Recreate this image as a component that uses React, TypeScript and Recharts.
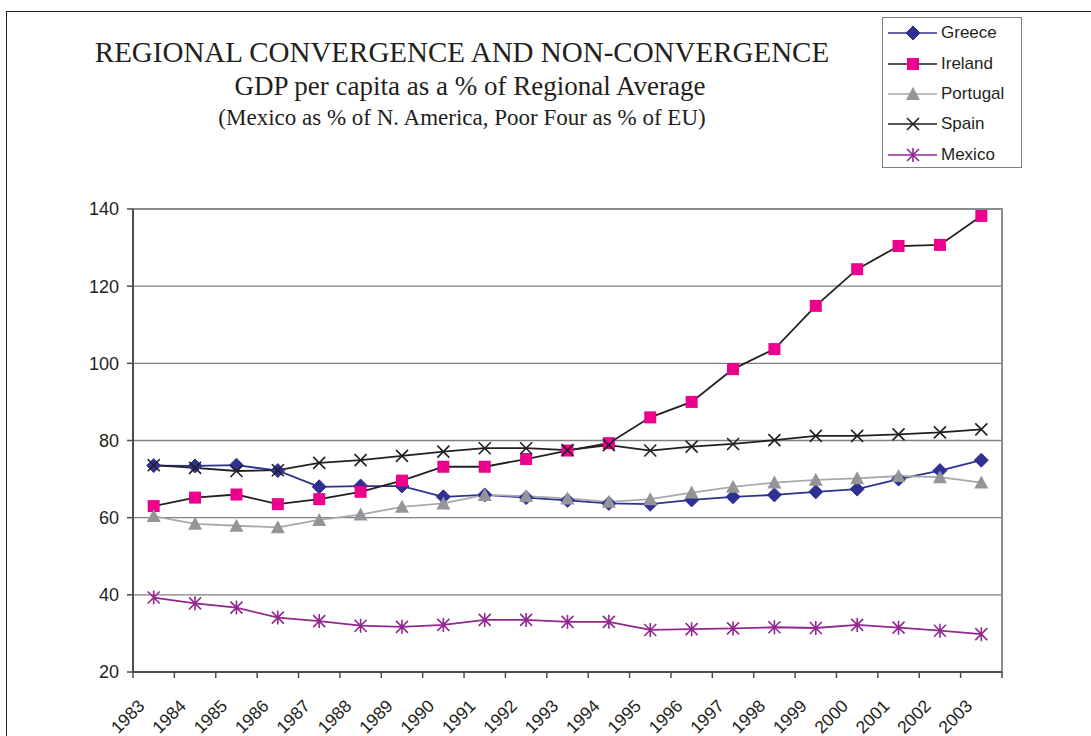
import { LineChart, Line, XAxis, YAxis, CartesianGrid, ReferenceArea } from 'recharts';

const years = [
  '1983', '1984', '1985', '1986', '1987', '1988', '1989', '1990', '1991', '1992', '1993',
  '1994', '1995', '1996', '1997', '1998', '1999', '2000', '2001', '2002', '2003',
];

const greece = [73.5, 73.4, 73.6, 72.2, 68.0, 68.2, 68.2, 65.4, 65.9, 65.2, 64.5, 63.7, 63.5, 64.6, 65.4, 65.9, 66.7, 67.4, 70.0, 72.2, 74.9];
const ireland = [63.0, 65.2, 66.0, 63.5, 64.8, 66.7, 69.6, 73.2, 73.2, 75.2, 77.4, 79.3, 86.0, 90.0, 98.5, 103.7, 114.9, 124.4, 130.4, 130.7, 138.2];
const portugal = [60.4, 58.4, 57.9, 57.5, 59.4, 60.8, 62.8, 63.7, 65.9, 65.6, 65.0, 64.1, 64.8, 66.5, 68.0, 69.1, 69.8, 70.2, 70.8, 70.5, 69.1];
const spain = [73.6, 72.9, 72.1, 72.3, 74.2, 74.9, 76.0, 77.1, 78.0, 78.0, 77.5, 78.8, 77.4, 78.4, 79.1, 80.1, 81.2, 81.2, 81.6, 82.1, 82.9];
const mexico = [39.3, 37.8, 36.7, 34.1, 33.2, 32.0, 31.7, 32.2, 33.5, 33.5, 33.0, 33.0, 30.9, 31.1, 31.3, 31.6, 31.4, 32.2, 31.5, 30.7, 29.8];

const yTicks = [20, 40, 60, 80, 100, 120, 140];

const data = years.map((year, i) => ({
  year,
  Greece: greece[i],
  Ireland: ireland[i],
  Portugal: portugal[i],
  Spain: spain[i],
  Mexico: mexico[i],
}));

const NAVY = '#2e3192';
const PINK = '#ec008c';
const GREY = '#939598';
const INK = '#231f20';
const PURPLE = '#92278f';
const AXIS = '#4d4d4d';

// chart box
const W = 1091;
const H = 736;
const M = { top: 209, right: 89, bottom: 4, left: 73 };
const Y_AXIS_W = 60;
const HALF_BAND = (W - M.left - M.right - Y_AXIS_W) / years.length / 2;

type MarkerKind = 'diamond' | 'square' | 'triangle' | 'x' | 'star';

function Marker({ kind, cx, cy, color }: { kind: MarkerKind; cx: number; cy: number; color: string }) {
  if (cx == null || cy == null) return null;
  switch (kind) {
    case 'diamond':
      return <path d={`M${cx},${cy - 7}L${cx + 7},${cy}L${cx},${cy + 7}L${cx - 7},${cy}Z`} fill={color} stroke={color} strokeWidth={1} />;
    case 'square':
      return <rect x={cx - 6} y={cy - 6} width={12} height={12} fill={color} />;
    case 'triangle':
      return <path d={`M${cx},${cy - 7}L${cx + 7},${cy + 6}L${cx - 7},${cy + 6}Z`} fill={color} />;
    case 'x':
      return (
        <path d={`M${cx - 6},${cy - 6}L${cx + 6},${cy + 6}M${cx + 6},${cy - 6}L${cx - 6},${cy + 6}`} stroke={color} strokeWidth={1.6} />
      );
    case 'star':
      return (
        <path
          d={`M${cx - 6},${cy - 6}L${cx + 6},${cy + 6}M${cx + 6},${cy - 6}L${cx - 6},${cy + 6}M${cx},${cy - 7}L${cx},${cy + 7}`}
          stroke={color}
          strokeWidth={1.6}
        />
      );
  }
  return null;
}

const series: { key: string; line: string; marker: string; kind: MarkerKind }[] = [
  { key: 'Greece', line: NAVY, marker: NAVY, kind: 'diamond' },
  { key: 'Ireland', line: INK, marker: PINK, kind: 'square' },
  { key: 'Portugal', line: '#a7a9ac', marker: GREY, kind: 'triangle' },
  { key: 'Spain', line: INK, marker: INK, kind: 'x' },
  { key: 'Mexico', line: PURPLE, marker: PURPLE, kind: 'star' },
];

// Excel style: tick marks sit between categories, label under the category
function YearTick(props: any) {
  const { x, y, payload, index } = props;
  const ax = x - 8;
  const ay = y + 35;
  const last = index === years.length - 1;
  return (
    <g>
      <line x1={x - HALF_BAND} y1={y} x2={x - HALF_BAND} y2={y + 6} stroke={AXIS} strokeWidth={1.5} />
      {last && <line x1={x + HALF_BAND} y1={y} x2={x + HALF_BAND} y2={y + 6} stroke={AXIS} strokeWidth={1.5} />}
      <text
        x={ax}
        y={ay}
        transform={`rotate(-45, ${ax}, ${ay})`}
        textAnchor="end"
        fontSize={17.5}
        fill={INK}
        fontFamily="'Liberation Sans', Arial, sans-serif"
      >
        {payload.value}
      </text>
    </g>
  );
}

function LegendBox() {
  return (
    <div
      style={{
        position: 'absolute',
        left: 882,
        top: 17,
        width: 140,
        height: 151,
        border: '1px solid #7f7f7f',
        background: '#fff',
        boxSizing: 'border-box',
        fontFamily: "'Liberation Sans', Arial, sans-serif",
        fontSize: 17,
        color: INK,
      }}
    >
      {series.map((s) => (
        <div key={s.key} style={{ display: 'flex', alignItems: 'center', height: 30.4 }}>
          <svg width={58} height={20} style={{ display: 'block' }}>
            <line x1={5} y1={10} x2={54} y2={10} stroke={s.line} strokeWidth={1.6} />
            <Marker kind={s.kind} cx={30} cy={10} color={s.marker} />
          </svg>
          <span>{s.key}</span>
        </div>
      ))}
    </div>
  );
}

export default function App() {
  return (
    <div style={{ position: 'absolute', left: 0, top: 0, width: W, height: H, background: '#fff', overflow: 'hidden' }}>
      <div
        style={{
          position: 'absolute',
          left: 6,
          top: 11,
          width: 1200,
          height: 900,
          borderTop: `1.5px solid ${INK}`,
          borderLeft: `1.5px solid ${INK}`,
        }}
      />
      <div
        style={{
          position: 'absolute',
          left: 62,
          width: 800,
          top: 38,
          textAlign: 'center',
          fontFamily: "'Liberation Serif', 'Times New Roman', serif",
          color: INK,
          lineHeight: 1,
        }}
      >
        <div style={{ fontSize: 29, height: 35 }}>REGIONAL CONVERGENCE AND NON-CONVERGENCE</div>
        <div style={{ fontSize: 27, height: 33, paddingLeft: 16 }}>GDP per capita as a % of Regional Average</div>
        <div style={{ fontSize: 23 }}>(Mexico as % of N. America, Poor Four as % of EU)</div>
      </div>
      <LineChart width={W} height={H} data={data} margin={M}>
        <CartesianGrid vertical={false} stroke="#7f7f7f" strokeWidth={1.3} />
        <ReferenceArea y1={20} y2={140} fill="none" stroke="#8c8c8c" strokeWidth={2} ifOverflow="visible" />
        <XAxis
          dataKey="year"
          scale="band"
          interval={0}
          height={60}
          tickSize={0}
          tickMargin={0}
          axisLine={{ stroke: AXIS, strokeWidth: 2 }}
          tickLine={false}
          tick={<YearTick />}
        />
        <YAxis
          domain={[20, 140]}
          ticks={yTicks}
          width={Y_AXIS_W}
          tickSize={6}
          axisLine={{ stroke: AXIS, strokeWidth: 2 }}
          tickLine={{ stroke: AXIS, strokeWidth: 1.5 }}
          tick={{ fill: INK, fontSize: 18, fontFamily: "'Liberation Sans', Arial, sans-serif" }}
          tickMargin={8}
        />
        {series.map((s) => (
          <Line
            key={s.key}
            dataKey={s.key}
            stroke={s.line}
            strokeWidth={1.8}
            isAnimationActive={false}
            dot={(p: any) => <Marker key={`${s.key}-${p.index}`} kind={s.kind} cx={p.cx} cy={p.cy} color={s.marker} />}
            activeDot={false}
          />
        ))}
      </LineChart>
      <LegendBox />
    </div>
  );
}
